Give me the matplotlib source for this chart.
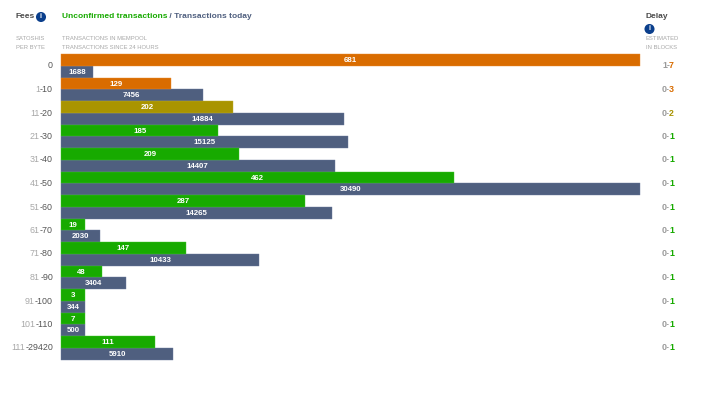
import matplotlib
matplotlib.use("Agg")
import matplotlib.pyplot as plt
import numpy as np

plt.rcParams['font.family'] = ['Liberation Sans', 'DejaVu Sans']

# data
fees = ["0", "1-10", "11-20", "21-30", "31-40", "41-50", "51-60", "61-70",
        "71-80", "81-90", "91-100", "101-110", "111-29420"]
unconfirmed = [681, 129, 202, 185, 209, 462, 287, 19, 147, 48, 3, 7, 111]
today = [1688, 7456, 14884, 15125, 14407, 30490, 14265, 2030, 10433, 3404, 344, 500, 5910]
delay_low = [1, 0, 0, 0, 0, 0, 0, 0, 0, 0, 0, 0, 0]
delay_high = [7, 3, 2, 1, 1, 1, 1, 1, 1, 1, 1, 1, 1]

W, H = 707, 394
ORANGE = '#d96c00'
OLIVE = '#a99400'
GREEN = '#17aa00'
SLATE = '#4f5f7f'
DARK = '#4a4a4a'
GREY = '#9a9a9a'
LIGHT = '#a8a8a8'
INFO = '#0b3f8c'
delay_col = {7: ORANGE, 3: ORANGE, 2: OLIVE, 1: GREEN}
edge_col = {ORANGE: '#e88a2e', OLIVE: '#bfad2e', GREEN: '#3fc62e'}
MINW = 24 / 579.


def px(x, y):
    return x / W, 1 - y / H


fig = plt.figure(figsize=(W / 100, H / 100), dpi=100, facecolor='w')
top, bottom = 54, 359.5
ax = fig.add_axes([61 / W, 1 - bottom / H, 579 / W, (bottom - top) / H])
ax.set_xlim(0, 1)
ax.set_ylim(len(fees), 0)
ax.axis('off')

wu = np.maximum(np.array(unconfirmed) / max(unconfirmed), MINW)
wt = np.maximum(np.array(today) / max(today), MINW)
y = np.arange(len(fees))
cols = [delay_col[d] for d in delay_high]
ax.barh(y + .75, wt, height=.5, color=SLATE, edgecolor='#6a7b9c', lw=.3, clip_on=False)
ax.barh(y + .25, wu, height=.5, color=cols, edgecolor=[edge_col[c] for c in cols], lw=.3, clip_on=False)

for i in y:
    ax.text(wu[i] / 2, i + .29, str(unconfirmed[i]), color='w', fontsize=5.7,
            fontweight='bold', ha='center', va='center')
    ax.text(wt[i] / 2, i + .77, str(today[i]), color='w', fontsize=5.7,
            fontweight='bold', ha='center', va='center')
    # row labels, the low end of the range is paler
    parts = fees[i].split('-')
    t = fig.text(*px(53, 66 + 23.5 * i), ('-' + parts[1]) if len(parts) > 1 else parts[0],
                 color='#555555', fontsize=6.4, ha='right', va='center')
    if len(parts) > 1:
        ax.annotate(parts[0], xy=(0, 0), xycoords=t, ha='right', va='bottom', color=LIGHT,
                    fontsize=6.4)
    t = fig.text(*px(662, 66 + 23.5 * i), f"{delay_low[i]}-", color=GREY,
                 fontsize=6.4, fontweight='bold', va='center')
    ax.annotate(str(delay_high[i]), xy=(1, 0), xycoords=t, xytext=(-.7, 0),
                textcoords='offset points', va='bottom', color=cols[i],
                fontsize=6.4, fontweight='bold')

# header
fig.text(*px(16, 17), "Fees", color=DARK, fontsize=6, fontweight='bold', va='center')
t = fig.text(*px(61.5, 17), "Unconfirmed transactions", color=GREEN, fontsize=6,
             fontweight='bold', va='center')
ax.annotate(" / Transactions today", xy=(1, 0), xycoords=t, va='bottom', color=SLATE,
            fontsize=6, fontweight='bold')
fig.text(*px(646, 17), "Delay", color=DARK, fontsize=6, fontweight='bold', va='center')

for sx, sy, s in [(16, 39, "SATOSHIS"), (16, 47.5, "PER BYTE"),
                  (61.5, 39, "TRANSACTIONS IN MEMPOOL"),
                  (61.5, 47.5, "TRANSACTIONS SINCE 24 HOURS"),
                  (646, 39, "ESTIMATED"), (646, 47.5, "IN BLOCKS")]:
    fig.text(*px(sx, sy), s, color=LIGHT, fontsize=4.2, va='center')

# info icons
for ix, iy in [(41, 17), (649.5, 29)]:
    fig.text(*px(ix, iy), "i", color='w', fontsize=5, fontweight='bold', ha='center', va='center',
             bbox=dict(boxstyle='circle,pad=0.22', fc=INFO, ec='none'))

fig.savefig('out.png', dpi=100)
